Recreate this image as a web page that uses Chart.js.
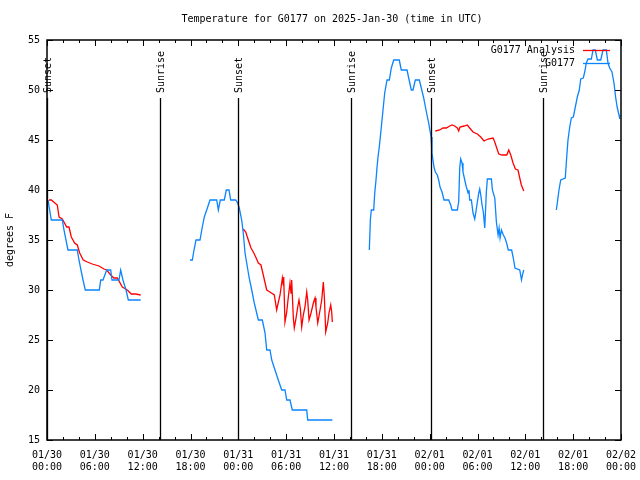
<!DOCTYPE html>
<html>
<head>
<meta charset="utf-8">
<script src="https://cdn.jsdelivr.net/npm/chart.js@4"></script>
<style>
  body { margin: 0; background: #fff; }
</style>
</head>
<body>
<canvas id="tempChart" width="640" height="480"></canvas>
<script>
// hours since 2025-01-30 00:00 UTC, readings in degrees F
const obsHours1 = [0.13, 0.54, 1.92, 2.13, 2.38, 2.63, 3.80, 4.01, 4.26, 4.52, 4.80, 6.56, 6.74, 7.02, 7.49, 7.99, 8.15, 9.03, 9.24, 9.53, 9.91, 10.20, 11.75];
const obsTemps1 = [39, 37, 37, 36, 35, 34, 34, 33, 32, 31, 30, 30, 31, 31, 32, 32, 31, 31, 32, 31, 30, 29, 29];

const obsHours2 = [17.94, 18.23, 18.44, 18.69, 19.19, 19.48, 19.73, 20.03, 20.45, 21.29, 21.49, 21.74, 22.24, 22.49, 22.67, 22.83, 23.04, 23.67, 23.92, 24.12, 24.42, 24.62, 24.84, 25.05, 25.34, 25.68, 26.00, 26.30, 26.51, 27.01, 27.35, 27.56, 27.97, 28.19, 28.60, 29.01, 29.44, 29.85, 30.07, 30.48, 30.77, 32.58, 32.70, 35.79];
const obsTemps2 = [33, 33, 34, 35, 35, 36.3, 37.3, 38, 39, 39, 38, 39, 39, 40, 40, 40, 39, 39, 38.7, 38.2, 37, 35.7, 33.7, 32.7, 31.3, 30, 28.7, 27.7, 27, 27, 25.7, 24, 24, 23, 22, 21, 20, 20, 19, 19, 18, 18, 17, 17];

const obsHours3 = [40.43, 40.56, 40.68, 40.98, 41.11, 41.27, 41.40, 41.52, 41.68, 41.90, 42.11, 42.36, 42.65, 42.94, 43.19, 43.49, 44.19, 44.44, 45.16, 45.37, 45.70, 45.91, 46.20, 46.70, 46.95, 47.25, 47.54, 47.88, 48.17, 48.29, 48.54, 48.71, 48.96, 49.13, 49.30, 49.55, 49.80, 50.39, 50.64, 50.80, 51.47, 51.64, 51.77, 51.89, 52.06, 52.18, 52.40, 52.60, 52.72, 52.81, 52.93, 53.02, 53.23, 53.44, 53.65, 53.78, 53.98, 54.16, 54.28, 54.41, 54.57, 54.73, 54.91, 55.11, 55.24, 55.74, 55.87, 56.17, 56.37, 56.58, 56.71, 56.83, 57.00, 57.24, 57.45, 57.65, 57.86, 58.28, 58.49, 58.70, 59.30, 59.52, 59.64, 59.80];
const obsTemps3 = [34, 37, 38, 38, 39.7, 41, 42.3, 43.3, 44.3, 46, 47.7, 49.7, 51, 51, 52.2, 53, 53, 52, 52, 51.2, 50, 50, 51, 51, 50.2, 49.2, 48, 46.7, 45.3, 43.7, 42.3, 41.8, 41.5, 41, 40.3, 39.8, 39, 39, 38.5, 38, 38, 38.8, 42.2, 43.1, 42.7, 41.8, 41, 40.3, 40, 39.7, 40, 39, 39, 37.7, 37.1, 37.7, 38.8, 39.7, 40.1, 39.5, 38.5, 37.8, 36.2, 39.8, 41.1, 41.1, 40, 39.2, 36.8, 35.5, 36.2, 35.2, 36, 35.5, 35.2, 34.7, 34, 34, 33.2, 32.2, 32, 31, 31.5, 32];

const obsHours4 = [63.89, 64.01, 64.22, 64.44, 65.01, 65.19, 65.35, 65.57, 65.77, 66.02, 66.27, 66.52, 66.77, 66.95, 67.27, 67.45, 67.65, 67.86, 68.28, 68.49, 68.78, 69.03, 69.46, 69.74, 70.16, 70.37, 70.58, 70.87, 71.12, 71.34, 71.54, 71.75, 71.84];
const obsTemps4 = [38, 38.7, 40, 41, 41.2, 43.3, 45, 46.3, 47.2, 47.3, 48.3, 49.3, 50, 51.1, 51.2, 51.8, 52.7, 53.1, 53.1, 54, 54, 53, 53, 54, 54, 52.7, 52.2, 51.8, 50.7, 49.2, 48.2, 47.5, 47.1];

const anaHours1 = [0.25, 0.54, 1.29, 1.51, 1.92, 2.47, 2.76, 3.05, 3.47, 3.80, 4.10, 4.55, 5.06, 5.68, 6.52, 7.15, 7.49, 7.99, 8.40, 8.82, 9.45, 10.07, 10.57, 11.13, 11.75];
const anaTemps1 = [39, 39, 38.5, 37.3, 37.1, 36.3, 36.3, 35.3, 34.7, 34.5, 33.7, 33, 32.8, 32.6, 32.4, 32.1, 32, 31.5, 31.2, 31.2, 30.3, 30, 29.6, 29.6, 29.5];

const anaHours2 = [24.62, 24.93, 25.25, 25.59, 25.88, 26.18, 26.51, 26.84, 27.13, 27.56, 27.97, 28.51, 28.81, 28.94, 29.23, 29.52, 29.64, 29.69, 29.85, 30.07, 30.27, 30.48, 30.61, 30.69, 30.90, 31.02, 31.20, 31.45, 31.61, 31.77, 31.95, 32.15, 32.36, 32.58, 32.70, 32.87, 33.12, 33.41, 33.62, 33.74, 33.96, 34.25, 34.46, 34.66, 34.79, 34.96, 35.21, 35.37, 35.59, 35.71, 35.79];
const anaTemps2 = [36.1, 35.8, 35, 34.2, 33.8, 33.3, 32.7, 32.5, 31.5, 30, 29.8, 29.5, 28, 28.5, 29.5, 31.2, 30.5, 31.3, 26.8, 27.8, 29.3, 30.7, 29.7, 31, 27.2, 26.2, 27, 28.3, 29, 28.2, 26.3, 27.5, 28.3, 29.8, 29, 27, 27.7, 28.7, 29.2, 28.3, 26.7, 28, 29, 30.8, 29.3, 25.8, 26.7, 27.7, 28.5, 27.8, 26.8];

const anaHours3 = [48.71, 49.26, 49.67, 50.09, 50.51, 50.80, 51.14, 51.47, 51.64, 51.80, 52.31, 52.72, 53.02, 53.44, 53.98, 54.41, 54.82, 55.32, 55.95, 56.17, 56.37, 56.67, 57.08, 57.67, 57.92, 58.17, 58.46, 58.75, 59.08, 59.30, 59.50, 59.80];
const anaTemps3 = [45.9, 46, 46.2, 46.2, 46.4, 46.5, 46.4, 46.2, 45.9, 46.3, 46.4, 46.5, 46.2, 45.8, 45.6, 45.3, 44.9, 45.1, 45.2, 44.8, 44.3, 43.6, 43.5, 43.5, 44, 43.5, 42.7, 42.1, 42, 41.2, 40.5, 39.9];

// sun events (hours) and their labels
const sunHours = [0, 14.17, 23.96, 38.13, 48.17, 62.22];
const sunLabels = ['Sunset', 'Sunrise', 'Sunset', 'Sunrise', 'Sunset', 'Sunrise'];

// x tick labels
const tickDays = ['01/30', '01/31', '02/01', '02/02'];
const tickTimes = ['00:00', '06:00', '12:00', '18:00'];

const FONT = 'DejaVu Sans Mono';
const BLUE = '#0a84ff';
const RED = '#ff0000';

function joinSegments(hourLists, tempLists) {
    const pts = [];
    hourLists.forEach((hrs, i) => {
        if (i > 0) pts.push({ x: hrs[0] - 0.01, y: null });
        hrs.forEach((h, j) => pts.push({ x: h, y: tempLists[i][j] }));
    });
    return pts;
}

const obsData = joinSegments([obsHours1, obsHours2, obsHours3, obsHours4], [obsTemps1, obsTemps2, obsTemps3, obsTemps4]);
const anaData = joinSegments([anaHours1, anaHours2, anaHours3], [anaTemps1, anaTemps2, anaTemps3]);

// frame, inward ticks, sun lines, title and key in gnuplot style
const gnuplotLook = {
    id: 'gnuplotLook',
    afterDatasetsDraw(chart) {
        const { ctx, chartArea: a, scales: { x, y } } = chart;
        ctx.save();
        ctx.strokeStyle = '#000';

        // sunrise / sunset markers
        ctx.lineWidth = 1.3;
        ctx.font = '10px "' + FONT + '"';
        ctx.fillStyle = '#000';
        sunHours.forEach((h, i) => {
            const px = Math.round(x.getPixelForValue(h)) + 0.5;
            ctx.beginPath();
            ctx.moveTo(px, a.bottom);
            ctx.lineTo(px, a.top + 58);
            ctx.stroke();
            ctx.save();
            ctx.translate(px + 1, a.top + 53);
            ctx.rotate(-Math.PI / 2);
            ctx.textAlign = 'left';
            ctx.textBaseline = 'middle';
            ctx.fillText(sunLabels[i], 0, 0);
            ctx.restore();
        });

        // border
        ctx.lineWidth = 1.5;
        ctx.strokeRect(a.left, a.top, a.right - a.left, a.bottom - a.top);

        // inward ticks
        ctx.lineWidth = 1;
        ctx.beginPath();
        for (let h = 0; h <= 72; h += 2) {
            const px = Math.round(x.getPixelForValue(h)) + 0.5;
            const len = h % 6 === 0 ? 6 : 3;
            ctx.moveTo(px, a.bottom); ctx.lineTo(px, a.bottom - len);
            ctx.moveTo(px, a.top); ctx.lineTo(px, a.top + len);
        }
        for (let v = 15; v <= 55; v += 5) {
            const py = Math.round(y.getPixelForValue(v)) + 0.5;
            ctx.moveTo(a.left, py); ctx.lineTo(a.left + 6, py);
            ctx.moveTo(a.right, py); ctx.lineTo(a.right - 6, py);
        }
        ctx.stroke();

        // key
        ctx.textAlign = 'right';
        ctx.textBaseline = 'middle';
        ctx.font = '10px "' + FONT + '"';
        chart.data.datasets.slice().reverse().forEach((ds, i) => {
            const ky = a.top + 10 + i * 13;
            ctx.fillStyle = '#000';
            ctx.fillText(ds.label, a.right - 46, ky);
            ctx.strokeStyle = ds.borderColor;
            ctx.lineWidth = 1.3;
            ctx.beginPath();
            ctx.moveTo(a.right - 38, ky + 0.5);
            ctx.lineTo(a.right - 11, ky + 0.5);
            ctx.stroke();
        });

        // title
        ctx.fillStyle = '#000';
        ctx.textAlign = 'center';
        ctx.font = '10px "' + FONT + '"';
        ctx.fillText('Temperature for G0177 on 2025-Jan-30 (time in UTC)', 332, 19);
        ctx.restore();
    }
};

const ctx = document.getElementById('tempChart').getContext('2d');

new Chart(ctx, {
    type: 'line',
    data: {
        datasets: [
            {
                label: 'G0177',
                data: obsData,
                borderColor: BLUE,
                borderWidth: 1.3,
                pointRadius: 0,
                spanGaps: false,
                order: 0
            },
            {
                label: 'G0177 Analysis',
                data: anaData,
                borderColor: RED,
                borderWidth: 1.3,
                pointRadius: 0,
                spanGaps: false,
                order: 1
            }
        ]
    },
    options: {
        responsive: false,
        animation: false,
        layout: { padding: { top: 40, right: 19, left: 0, bottom: 0 } },
        plugins: {
            legend: { display: false },
            tooltip: { enabled: false }
        },
        scales: {
            x: {
                type: 'linear',
                min: 0,
                max: 72,
                grid: { display: false, drawTicks: false },
                border: { display: false },
                ticks: {
                    stepSize: 2,
                    autoSkip: false,
                    maxRotation: 0,
                    padding: 9,
                    color: '#000',
                    font: { family: FONT, size: 10 },
                    callback: (v) => v % 6 === 0 ? [tickDays[Math.floor(v / 24)], tickTimes[(v % 24) / 6]] : ''
                },
                afterFit: (s) => { s.height = 40; s.paddingLeft = 0; s.paddingRight = 0; }
            },
            y: {
                min: 15,
                max: 55,
                grid: { display: false, drawTicks: false },
                border: { display: false },
                title: {
                    display: true,
                    text: 'degrees F',
                    color: '#000',
                    font: { family: FONT, size: 10 },
                    padding: 4
                },
                ticks: {
                    stepSize: 5,
                    padding: 7,
                    color: '#000',
                    font: { family: FONT, size: 10 }
                },
                afterFit: (s) => { s.width = 47; s.paddingTop = 0; s.paddingBottom = 0; }
            }
        }
    },
    plugins: [gnuplotLook]
});
</script>
</body>
</html>
